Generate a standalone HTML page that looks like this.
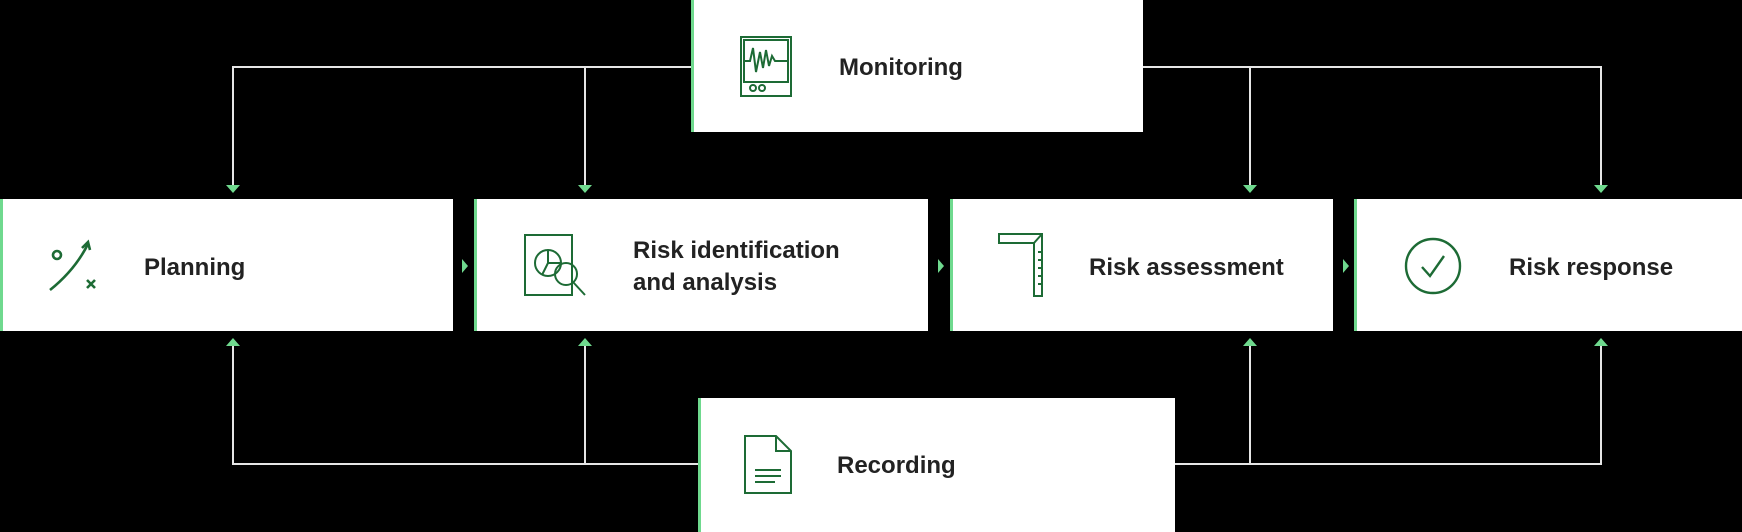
<!DOCTYPE html>
<html><head><meta charset="utf-8"><style>
html,body{margin:0;padding:0;background:#000;}
svg{display:block}
text{font-family:"Liberation Sans",sans-serif;font-size:24px;fill:#222;font-weight:bold;letter-spacing:0px}
</style></head><body>
<svg width="1742" height="532" viewBox="0 0 1742 532" xmlns="http://www.w3.org/2000/svg">
<g stroke="#e6e6e6" stroke-width="2" fill="none">
<polyline points="233,186 233,67 691,67"/>
<line x1="585" y1="67" x2="585" y2="186"/>
<polyline points="1143,67 1601,67 1601,186"/>
<line x1="1250" y1="67" x2="1250" y2="186"/>
<polyline points="233,345 233,464 698,464"/>
<line x1="585" y1="464" x2="585" y2="345"/>
<polyline points="1175,464 1601,464 1601,345"/>
<line x1="1250" y1="464" x2="1250" y2="345"/>
</g>
<g fill="#6fd98e">
<polygon points="226,185 240,185 233,193"/>
<polygon points="578,185 592,185 585,193"/>
<polygon points="1243,185 1257,185 1250,193"/>
<polygon points="1594,185 1608,185 1601,193"/>
<polygon points="226,346 240,346 233,338"/>
<polygon points="578,346 592,346 585,338"/>
<polygon points="1243,346 1257,346 1250,338"/>
<polygon points="1594,346 1608,346 1601,338"/>
<polygon points="462,259 468,266 462,273"/>
<polygon points="938,259 944,266 938,273"/>
<polygon points="1343,259 1349,266 1343,273"/>
</g>
<g fill="#fff">
<rect x="691" y="0" width="452" height="132"/>
<rect x="0" y="199" width="453" height="132"/>
<rect x="474" y="199" width="454" height="132"/>
<rect x="950" y="199" width="383" height="132"/>
<rect x="1354" y="199" width="388" height="132"/>
<rect x="698" y="398" width="477" height="134"/>
</g>
<g fill="#6fd98e">
<rect x="691" y="0" width="3" height="132"/>
<rect x="0" y="199" width="3" height="132"/>
<rect x="474" y="199" width="3" height="132"/>
<rect x="950" y="199" width="3" height="132"/>
<rect x="1354" y="199" width="3" height="132"/>
<rect x="698" y="398" width="3" height="134"/>
</g>
<text x="839" y="75">Monitoring</text>
<text x="144" y="275">Planning</text>
<text x="633" y="258">Risk identification</text>
<text x="633" y="290">and analysis</text>
<text x="1089" y="275">Risk assessment</text>
<text x="1509" y="275">Risk response</text>
<text x="837" y="473">Recording</text>
<g stroke="#1d6b35" stroke-width="2" fill="none">
<rect x="741" y="37" width="50" height="59"/>
<rect x="744" y="40" width="44" height="42"/>
<polyline points="744,61 750,61 753,48 756,72 760,52 763,68 766,50 769,66 772,56 775,61 788,61"/>
<circle cx="753" cy="88" r="3"/><circle cx="762" cy="88" r="3"/>
<g stroke-width="2.6">
<circle cx="57" cy="255" r="4"/>
<path d="M50,290 Q75,270 88,244"/>
<polyline points="82,248 88,242 90,250"/>
<path d="M87,280 l8,8 M95,280 l-8,8"/>
</g>
<rect x="525" y="235" width="47" height="60"/>
<circle cx="548" cy="263" r="13"/>
<path d="M548,250 v13 h13 M548,263 l-6,12"/>
<circle cx="566" cy="274" r="11"/>
<line x1="573" y1="282" x2="585" y2="295"/>
<path d="M999,234 h43 v62 h-8 v-53 h-35 z"/>
<path d="M1042,234 l-8,9"/>
<path d="M1042,252 h-4 M1042,260 h-4 M1042,268 h-4 M1042,276 h-4 M1042,284 h-4"/>
<circle cx="1433" cy="266" r="27" stroke-width="2.4"/>
<polyline points="1422,267 1430,276 1444,256" stroke-width="2.4"/>
<path d="M745,436 h31 l15,15 v42 h-46 z M776,436 v15 h15"/>
<path d="M755,470 h26 M755,476 h26 M755,482 h20"/>
</g>
</svg>
</body></html>
